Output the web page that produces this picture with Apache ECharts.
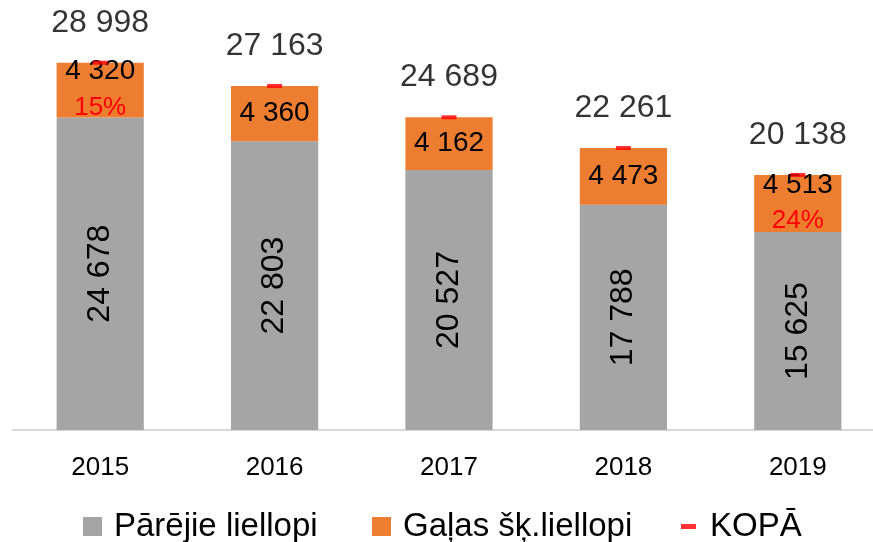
<!DOCTYPE html>
<html>
<head>
<meta charset="utf-8">
<script src="https://cdn.jsdelivr.net/npm/echarts@6/dist/echarts.min.js"></script>
<style>
  html, body { margin: 0; padding: 0; background: #fff; }
  #chart { width: 873px; height: 542px; }
</style>
</head>
<body>
<div id="chart"></div>
<script>
// dati
var years = ['2015', '2016', '2017', '2018', '2019'];
var parejie = [24678, 22803, 20527, 17788, 15625];
var galas = [4320, 4360, 4162, 4473, 4513];
var kopa = [28998, 27163, 24689, 22261, 20138];
var galasPct = ['15%', '', '', '', '24%'];

var FONT = 'Liberation Sans';

// 28998 -> "28 998"
function fmt(n) {
    return String(n).replace(/\B(?=(\d{3})+(?!\d))/g, ' ');
}

// viena leģendas vienība
function legendItem(name, left, w, h, gap) {
    return {
        data: [{ name: name, icon: 'rect' }],
        left: left,
        top: 505,
        itemWidth: w,
        itemHeight: h,
        textStyle: {
            fontSize: 33,
            color: '#000',
            fontFamily: FONT,
            padding: [0, 0, 0, gap]
        }
    };
}

var oChart = echarts.init(document.getElementById('chart'));

var opt = {
    animation: false,
    textStyle: { fontFamily: FONT },
    grid: {
        left: 13,
        width: 872,
        top: 50,
        bottom: 112,
        outerBoundsMode: 'none',
        containLabel: false
    },
    legend: [
        legendItem('Pārējie liellopi', 78, 19, 19, 7),
        legendItem('Gaļas šķ.liellopi', 367, 19, 19, 7),
        legendItem('KOPĀ', 676, 15, 5, 9)
    ],
    xAxis: [{
        type: 'category',
        data: years,
        axisLine: { lineStyle: { color: '#d9d9d9', width: 2 } },
        axisTick: { show: false },
        axisLabel: { fontSize: 26, color: '#000', margin: 25, fontFamily: FONT }
    }],
    yAxis: [{
        type: 'value',
        min: 0,
        max: 30000,
        show: false,
        splitLine: { show: false }
    }],
    series: [{
        name: 'Pārējie liellopi',
        type: 'bar',
        stack: 'a',
        barCategoryGap: '50%',
        itemStyle: { color: '#a5a5a5' },
        label: {
            show: true,
            position: 'inside',
            rotate: 90,
            fontSize: 32,
            color: '#000',
            fontFamily: FONT,
            formatter: function (p) { return fmt(p.value); }
        },
        data: parejie
    }, {
        name: 'Gaļas šķ.liellopi',
        type: 'bar',
        stack: 'a',
        itemStyle: { color: '#ed7d31' },
        label: {
            show: true,
            position: 'inside',
            fontFamily: FONT,
            formatter: function (p) {
                var s = '{a|' + fmt(p.value) + '}';
                if (galasPct[p.dataIndex]) {
                    s += '\n{p|' + galasPct[p.dataIndex] + '}';
                }
                return s;
            },
            rich: {
                a: { fontSize: 28, color: '#000', lineHeight: 35, fontFamily: FONT },
                p: { fontSize: 26, color: '#ff0000', lineHeight: 37, fontFamily: FONT }
            }
        },
        data: galas
    }, {
        name: 'KOPĀ',
        type: 'scatter',
        symbol: 'rect',
        symbolSize: [15, 4],
        itemStyle: { color: '#ff0000' },
        z: 5,
        label: {
            show: true,
            position: 'top',
            distance: 22,
            fontSize: 32,
            color: '#000',
            fontFamily: FONT,
            formatter: function (p) { return fmt(p.value); }
        },
        data: kopa
    }]
};

oChart.setOption(opt);
</script>
</body>
</html>
